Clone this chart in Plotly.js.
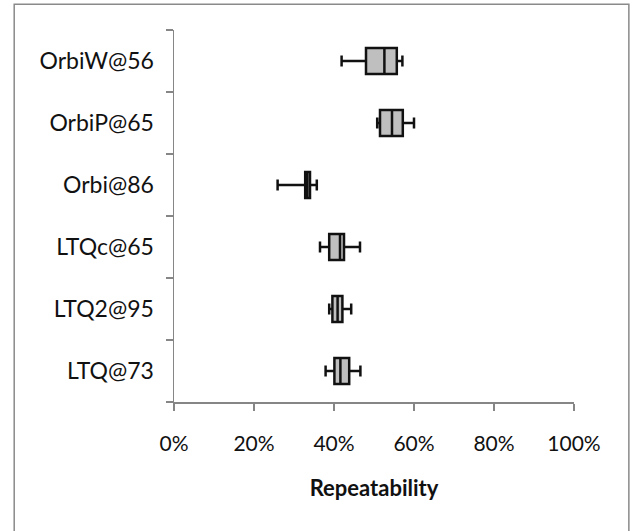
<!DOCTYPE html>
<html>
<head>
<meta charset="utf-8">
<script src="https://cdn.plot.ly/plotly-3.0.1.min.js"></script>
<style>
  html, body { margin: 0; padding: 0; background: #ffffff; }
  #chart { width: 636px; height: 531px; }
</style>
</head>
<body>
<div id="chart"></div>
<script>
// Categories listed bottom to top
const categories = ['LTQ@73', 'LTQ2@95', 'LTQc@65', 'Orbi@86', 'OrbiP@65', 'OrbiW@56'];
const lowerWhisker = [0.379, 0.388, 0.365, 0.259, 0.508, 0.419];
const quartile1    = [0.401, 0.396, 0.388, 0.328, 0.515, 0.480];
const medianValue  = [0.416, 0.409, 0.415, 0.333, 0.545, 0.526];
const quartile3    = [0.438, 0.421, 0.425, 0.340, 0.572, 0.557];
const upperWhisker = [0.466, 0.443, 0.465, 0.357, 0.600, 0.571];
const xTickValues  = [0, 0.2, 0.4, 0.6, 0.8, 1.0];
const xAxisTitle   = 'Repeatability';

const W = 636, H = 531;
const mL = 173.5, mR = W - 574.5, mT = 30, mB = H - 401.7;
const pw = W - mL - mR, ph = H - mT - mB;
const px = v => (v - mL) / pw;
const py = v => (H - mB - v) / ph;

const axisColor = '#868686';
const fontFam = 'Lato, "Open Sans", sans-serif';

const trace = {
  type: 'box',
  orientation: 'h',
  y: categories,
  lowerfence: lowerWhisker,
  q1: quartile1,
  median: medianValue,
  q3: quartile3,
  upperfence: upperWhisker,
  boxpoints: false,
  fillcolor: '#bfbfbf',
  line: { color: '#111111', width: 2.5 },
  whiskerwidth: 0.42,
  width: 0.42,
  showlegend: false
};

const layout = {
  width: W, height: H,
  margin: { l: mL, r: mR, t: mT, b: mB, pad: 0 },
  paper_bgcolor: '#ffffff',
  plot_bgcolor: '#ffffff',
  font: { family: fontFam, color: '#111111', size: 21 },
  showlegend: false,
  xaxis: {
    range: [0, 1],
    tickvals: xTickValues,
    tickformat: '.0%',
    showgrid: false,
    zeroline: false,
    showline: true,
    linecolor: axisColor,
    linewidth: 1.5,
    ticks: 'outside',
    ticklen: 7,
    tickwidth: 1.5,
    tickcolor: axisColor,
    ticklabelstandoff: 15,
    tickfont: { family: fontFam, size: 21, color: '#111111' },
    title: { text: '<b>' + xAxisTitle + '</b>', font: { family: fontFam, size: 22, color: '#111111' }, standoff: 27 },
    fixedrange: true
  },
  yaxis: {
    type: 'category',
    categoryorder: 'array',
    categoryarray: categories,
    range: [-0.5, 5.5],
    tickson: 'boundaries',
    showgrid: false,
    zeroline: false,
    showline: true,
    linecolor: axisColor,
    linewidth: 1.5,
    ticks: 'outside',
    ticklen: 7,
    tickwidth: 1.5,
    tickcolor: axisColor,
    ticklabelstandoff: 14,
    tickfont: { family: fontFam, size: 23, color: '#111111' },
    fixedrange: true
  },
  shapes: [{
    type: 'rect', xref: 'paper', yref: 'paper', layer: 'below',
    x0: px(13.3), x1: px(629.5), y0: py(560), y1: py(4.3),
    line: { color: '#8a8a8a', width: 1.5 }, fillcolor: 'rgba(0,0,0,0)'
  }]
};

Plotly.newPlot('chart', [trace], layout, { displayModeBar: false, staticPlot: true });
</script>
</body>
</html>
